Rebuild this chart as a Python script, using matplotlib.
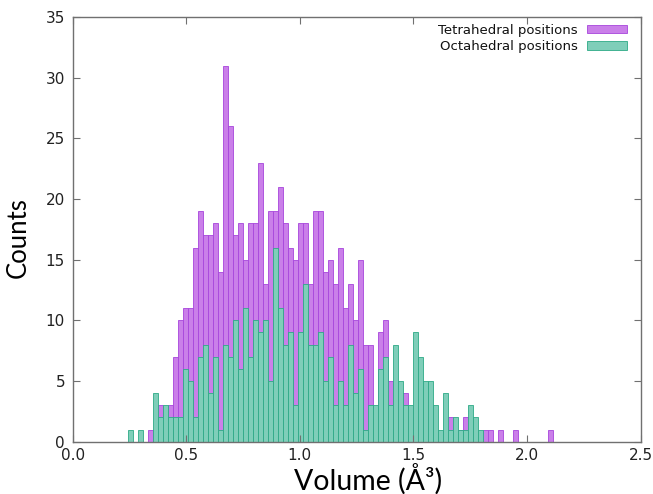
import numpy as np
import matplotlib
matplotlib.use("Agg")
import matplotlib.pyplot as plt

# histograma de volumenes, bins de 0.022 empezando en 0.245
bin_start = 0.245
bin_width = 0.022

tetra_counts = [0, 0, 0, 0, 1, 1, 3, 2, 3, 7,
                10, 11, 11, 16, 19, 17, 17, 18, 14, 31,
                26, 17, 18, 15, 18, 18, 23, 13, 19, 19,
                21, 18, 16, 15, 18, 18, 13, 19, 19, 14,
                15, 13, 16, 11, 13, 10, 15, 8, 8, 2,
                9, 10, 5, 5, 4, 4, 2, 2, 1, 2,
                1, 1, 0, 1, 2, 0, 1, 2, 1, 0,
                0, 1, 1, 0, 1, 0, 0, 1, 0, 0,
                0, 0, 0, 0, 1]

octa_counts = [1, 0, 1, 0, 0, 4, 2, 3, 2, 2,
               2, 6, 5, 2, 7, 8, 4, 7, 1, 8,
               7, 10, 6, 11, 7, 10, 9, 10, 5, 16,
               11, 8, 9, 3, 9, 13, 8, 8, 9, 5,
               7, 3, 5, 3, 8, 4, 6, 1, 3, 3,
               6, 7, 3, 8, 5, 3, 3, 9, 7, 5,
               5, 3, 1, 4, 1, 2, 1, 1, 3, 2,
               1, 0, 0, 0, 0, 0, 0, 0, 0, 0,
               0, 0, 0, 0, 0]

labels = ["Tetrahedral positions", "Octahedral positions"]
xticks = [0.0, 0.5, 1.0, 1.5, 2.0, 2.5]
yticks = [0, 5, 10, 15, 20, 25, 30, 35]

edges = bin_start + bin_width * np.arange(len(tetra_counts))
tetra = np.array(tetra_counts)
octa = np.array(octa_counts)

fig = plt.figure(figsize=(6.53, 4.94), dpi=100)
ax = fig.add_axes([0.1113, 0.1059, 0.8696, 0.8597])

m = tetra > 0
ax.bar(edges[m], tetra[m], width=bin_width, align="edge",
       color="#CA7FE9", edgecolor="#A745DC", linewidth=0.6, label=labels[0])
m = octa > 0
ax.bar(edges[m], octa[m], width=bin_width, align="edge",
       color="#7FCEB9", edgecolor="#2DAA86", linewidth=0.6, label=labels[1])

ax.set_xlim(0, 2.5)
ax.set_ylim(0, 35)
ax.set_xticks(xticks)
ax.set_xticklabels([f"{t:.1f}" for t in xticks])
ax.set_yticks(yticks)
ax.tick_params(direction="in", length=5, width=0.8, top=True, right=True,
               labelsize=11, pad=4.5, colors="#707070", labelcolor="#222222")
ax.tick_params(axis="y", pad=5.5)
for s in ax.spines.values():
    s.set_color("#707070")
    s.set_linewidth(1.0)

leg = ax.legend(loc="upper right", bbox_to_anchor=(0.985, 0.997),
                frameon=False, markerfirst=False,
                fontsize=9.5, handlelength=3.0, handleheight=0.65,
                borderaxespad=0.0, labelspacing=0.25, handletextpad=0.7)
for t in leg.get_texts():
    t.set_ha("right")
    t.set_color("#111111")

fig.text(0.0276, 0.52, "Counts", rotation=90, ha="center", va="center",
         fontsize=18.5, family="Lato")
fig.text(0.5636, 0.030, "Volume (Å³)", ha="center", va="center",
         fontsize=20.5, family="Lato")

fig.savefig("out.png", dpi=100)
